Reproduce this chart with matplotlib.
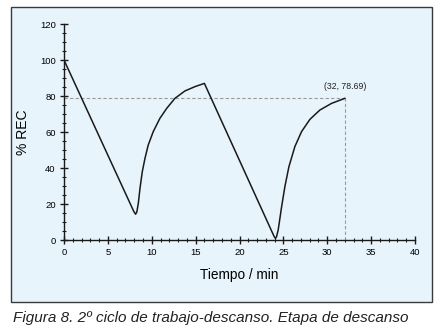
import matplotlib
matplotlib.use("Agg")
import matplotlib.pyplot as plt
from matplotlib.patches import Rectangle
from matplotlib.ticker import MultipleLocator

plt.rcParams['font.family'] = ['Liberation Sans', 'DejaVu Sans']

# Data
time_min = [0.0, 7.95, 8.16, 8.3, 8.47, 8.66, 8.92, 9.23, 9.6, 10.17, 10.93, 11.7, 12.64,
            13.78, 14.92, 16.0,
            23.95, 24.1, 24.22, 24.41, 24.8, 25.17, 25.63, 26.31, 27.07, 28.02, 29.16,
            30.49, 32.0]
rec_pct = [100.0, 15.9, 14.3, 15.6, 20.4, 28.7, 37.9, 45.4, 52.8, 60.2, 67.6, 73.1, 78.7,
           82.8, 85.2, 87.0,
           1.9, 0.9, 1.8, 5.6, 18.5, 29.6, 40.7, 51.9, 60.2, 67.0, 72.2,
           75.9, 78.69]
end_point = (32, 78.69)
x_ticks = [0, 5, 10, 15, 20, 25, 30, 35, 40]
y_ticks = [0, 20, 40, 60, 80, 100, 120]

W, H = 443, 335
fig = plt.figure(figsize=(W / 100, H / 100), dpi=100)
fig.patch.set_facecolor('white')

# Light blue panel with border
panel = Rectangle((11 / W, 1 - 302 / H), 421 / W, 295 / H, transform=fig.transFigure,
                  facecolor='#E7F4FB', edgecolor='#3a3a3a', linewidth=1.0, zorder=0)
fig.patches.append(panel)

ax = fig.add_axes([64 / W, 1 - 240 / H, (415 - 64) / W, (240 - 24) / H])
ax.set_zorder(2)
ax.set_facecolor('none')
ax.patch.set_alpha(0)

ax.plot(time_min, rec_pct, color='#1a1a1a', lw=1.1, zorder=3, solid_joinstyle='round')

ex, ey = end_point
ax.plot([0, ex], [ey, ey], color='#999999', lw=0.8, ls=(0, (3, 2)), zorder=2)
ax.plot([ex, ex], [0, ey], color='#999999', lw=0.8, ls=(0, (3, 2)), zorder=2)
ax.annotate(f"({ex}, {ey})", xy=(ex, ey), xytext=(0, 5), textcoords='offset points',
            ha='center', va='bottom', fontsize=6.3, color='#222222')

ax.set_xlim(0, 40)
ax.set_ylim(0, 120)
ax.set_xticks(x_ticks)
ax.set_yticks(y_ticks)
ax.xaxis.set_minor_locator(MultipleLocator(1))
ax.yaxis.set_minor_locator(MultipleLocator(5))
for s in ['top', 'right']:
    ax.spines[s].set_visible(False)
for s in ['left', 'bottom']:
    ax.spines[s].set_color('#1a1a1a')
    ax.spines[s].set_linewidth(1.0)
ax.tick_params(which='major', direction='inout', length=6, width=1.0, color='#1a1a1a',
               labelsize=6.8, pad=3)
ax.tick_params(which='minor', direction='inout', length=3.5, width=0.8, color='#1a1a1a')
ax.set_xlabel('Tiempo / min', fontsize=9.8, labelpad=8)
ax.set_ylabel('% REC', fontsize=10)
ax.yaxis.set_label_coords(-0.097, 0.5)

fig.text(13 / W, 1 - 318 / H, 'Figura 8. 2º ciclo de trabajo-descanso. Etapa de descanso',
         fontsize=11, style='italic', ha='left', va='center', color='#222222')

fig.savefig('out.png', dpi=100, facecolor='white')
